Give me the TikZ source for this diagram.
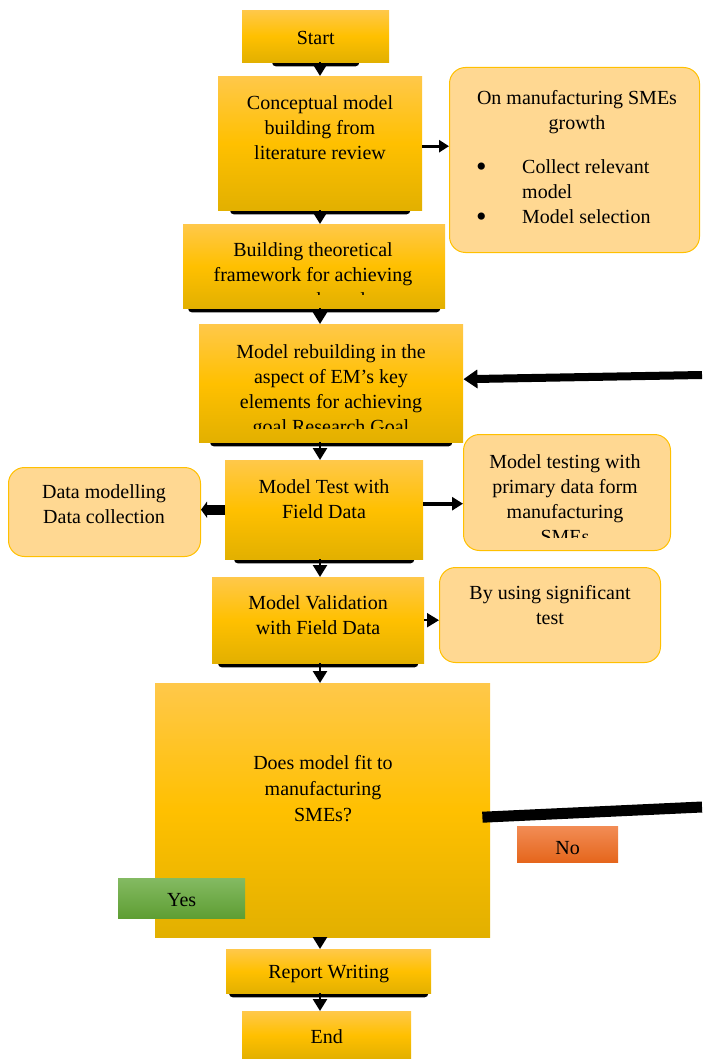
\documentclass[tikz,border=0pt]{standalone}
\usepackage{fontspec}
\setmainfont{Liberation Serif}
\usetikzlibrary{arrows.meta,backgrounds}

\definecolor{goldtop}{HTML}{FFC84A}
\definecolor{goldmid}{HTML}{FFC000}
\definecolor{goldbot}{HTML}{E2B000}
\definecolor{pale}{HTML}{FFD892}
\definecolor{greentop}{HTML}{84BA62}
\definecolor{greenbot}{HTML}{5E9E33}
\definecolor{orangetop}{HTML}{F28C55}
\definecolor{orangebot}{HTML}{E5661C}

\begin{document}
\begin{tikzpicture}[x=1pt,y=-1pt,font=\fontsize{20}{25}\selectfont,
   box/.style={rectangle,inner sep=0pt,anchor=north west,top color=goldtop,bottom color=goldbot,middle color=goldmid},
   side/.style={rectangle,rounded corners=16pt,inner sep=0pt,anchor=north west,draw=goldmid,line width=1pt,fill=pale},
   txt/.style={align=center,inner sep=0pt,anchor=north},
   vflow/.style={line width=2.5pt,-{Triangle[width=14pt,length=12pt]}}]
   \useasboundingbox (0,0) rectangle (702,1059);

   % main column
   \node[box,minimum width=147,minimum height=52,text height=16pt,text depth=0pt] (start) at (242,10) {Start};
   \node[box,minimum width=204,minimum height=134] (concept) at (218,76) {};
   \node[box,minimum width=262,minimum height=84] (build) at (183,224) {};
   \node[box,minimum width=264,minimum height=118] (rebuild) at (199,324) {};
   \node[box,minimum width=198,minimum height=99] (test) at (225,460) {};
   \node[box,minimum width=212,minimum height=86] (valid) at (212,577) {};
   \node[box,minimum width=335,minimum height=254] (decide) at (155,683) {};
   \node[box,minimum width=205,minimum height=44,text height=18pt,text depth=4pt] (report) at (226,949) {Report Writing};
   \node[box,minimum width=169,minimum height=48,text height=17pt,text depth=0pt] (finish) at (242,1011) {End};

   \node[txt] (conceptT) at (320,95) {Conceptual model\\building from\\literature review};
   \begin{scope}
      \clip (183,224) rectangle (445,294);
      \node[txt] (buildT) at (313,242) {Building theoretical\\framework for achieving\\research goal};
   \end{scope}
   \begin{scope}
      \clip (199,324) rectangle (463,428);
      \node[txt] (rebuildT) at (331,344) {Model rebuilding in the\\aspect of EM’s key\\elements for achieving\\goal Research Goal};
   \end{scope}
   \node[txt] (testT) at (324,479) {Model Test with\\Field Data};
   \node[txt] (validT) at (318,595) {Model Validation\\with Field Data};
   \node[txt,font=\fontsize{20}{26}\selectfont] (decideT) at (323,755) {Does model fit to\\manufacturing\\SMEs?};

   % side notes
   \node[side,minimum width=250,minimum height=185] (grow) at (449,67) {};
   \node[side,minimum width=192,minimum height=89] (datamod) at (8,467) {};
   \node[side,minimum width=207,minimum height=116] (primary) at (463,434) {};
   \node[side,minimum width=221,minimum height=95] (signif) at (439,567) {};

   \node[txt] (growT) at (577,90) {On manufacturing SMEs\\growth};
   \node[anchor=north west,inner sep=0pt] (growL) at (476,156) {\begin{tabular}{@{}p{46pt}@{}l@{}}\raisebox{-3pt}{\fontsize{30}{25}\selectfont\textbullet} & Collect relevant\\ & model\\ \raisebox{-3pt}{\fontsize{30}{25}\selectfont\textbullet} & Model selection\end{tabular}};
   \node[txt] (datamodT) at (104,484) {Data modelling\\Data collection};
   \begin{scope}
      \clip (463,434) rectangle (670,537);
      \node[txt] (primaryT) at (565,454) {Model testing with\\primary data form\\manufacturing\\SMEs};
   \end{scope}
   \node[txt] (signifT) at (550,585) {By using significant\\test};

   \node[rectangle,inner sep=0pt,anchor=north west,minimum width=127,minimum height=40,text height=17pt,text depth=0pt,top color=greentop,bottom color=greenbot] (yes) at (118,878) {Yes};
   \node[rectangle,inner sep=0pt,anchor=north west,minimum width=101,minimum height=36,text height=21pt,text depth=0pt,top color=orangetop,bottom color=orangebot] (no) at (517,826) {No};

   \begin{scope}[on background layer]
      \foreach \n/\i in {start/30,concept/12,build/5,rebuild/11,test/9,valid/6,report/3}
         \fill[rounded corners=4pt] ([xshift=\i pt,yshift=4pt]\n.south west) rectangle ([xshift=-\i pt,yshift=-4pt]\n.south east);
   \end{scope}

   % connectors
   \coordinate (spine) at (320,0);
   \coordinate (loopin) at (702,375);
   \coordinate (loopout) at (702,807);
   \draw[vflow] (start.south -| spine) -- (concept.north -| spine);
   \draw[vflow] (concept.south -| spine) -- (build.north -| spine);
   \draw[vflow] (build.south -| spine) -- (rebuild.north -| spine);
   \draw[vflow] (rebuild.south -| spine) -- (test.north -| spine);
   \draw[vflow] (test.south -| spine) -- (valid.north -| spine);
   \draw[vflow] (valid.south -| spine) -- (decide.north -| spine);
   \draw[vflow] (decide.south -| spine) -- (report.north -| spine);
   \draw[vflow] (report.south -| spine) -- (finish.north -| spine);

   \draw[line width=3pt,-{Triangle[width=12pt,length=10pt]}] ([yshift=-3pt]concept.east) -- ([yshift=-3pt]concept.east -| grow.west);
   \draw[line width=10pt,-{Triangle[width=16pt,length=6pt]}] (test.west) -- (test.west -| datamod.east);
   \draw[line width=4pt,-{Triangle[width=13pt,length=11pt]}] ([yshift=6pt]test.east) -- ([yshift=6pt]test.east -| primary.west);
   \draw[line width=2pt,-{Triangle[width=14pt,length=12pt]}] (valid.east) -- (valid.east -| signif.west);
   \draw[line width=8pt,-{Triangle[width=18pt,length=14pt]}] (loopin) -- ([yshift=4pt]rebuild.east);
   \draw[line width=11pt] ([xshift=-8pt,yshift=-7pt]decide.east) -- (loopout);
\end{tikzpicture}
\end{document}
